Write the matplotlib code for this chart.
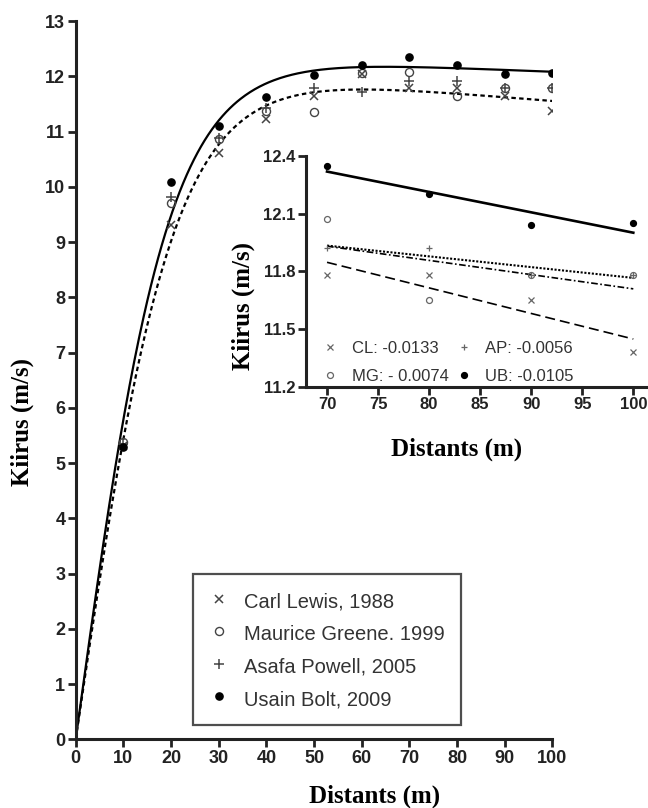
import numpy as np
import matplotlib
matplotlib.use("Agg")
import matplotlib.pyplot as plt

# split speeds (m/s) every 10 m
dist = [10, 20, 30, 40, 50, 60, 70, 80, 90, 100]
lewis = [5.30, 9.31, 10.62, 11.22, 11.64, 12.04, 11.78, 11.78, 11.65, 11.38]
greene = [5.38, 9.71, 10.87, 11.37, 11.36, 12.05, 12.07, 11.65, 11.78, 11.78]
powell = [5.35, 9.82, 10.88, 11.42, 11.78, 11.72, 11.92, 11.92, 11.78, 11.78]
bolt = [5.29, 10.09, 11.10, 11.62, 12.03, 12.20, 12.35, 12.20, 12.04, 12.05]

legend_names = ["Carl Lewis, 1988", "Maurice Greene. 1999",
                "Asafa Powell, 2005", "Usain Bolt, 2009"]
slope_labels = ["CL: -0.0133", "MG: - 0.0074", "AP: -0.0056", "UB: -0.0105"]

main_xticks = list(range(0, 101, 10))
main_yticks = list(range(0, 14))
inset_xticks = [70, 75, 80, 85, 90, 95, 100]
inset_yticks = [11.2, 11.5, 11.8, 12.1, 12.4]

W, H = 648, 808
TICKFONT = "Liberation Sans"
LABELFONT = "Liberation Serif"


def fit_speed_curve(x, v):
    # v = a*tanh(x/tau) - c*x with c >= 0, grid on tau/c, least squares on a
    x = np.asarray(x, float)
    v = np.asarray(v, float)
    cs = np.linspace(0, 0.03, 121)
    best = None
    for tau in np.linspace(8, 40, 321):
        g = np.tanh(x / tau)
        target = v[None, :] + cs[:, None] * x[None, :]
        a = target @ g / (g @ g)
        sse = np.sum((a[:, None] * g[None, :] - target) ** 2, axis=1)
        i = np.argmin(sse)
        if best is None or sse[i] < best[0]:
            best = (sse[i], tau, a[i], cs[i])
    _, tau, a, c = best
    return lambda xx: a * np.tanh(xx / tau) - c * xx


def px_ax(fig, left, top, right, bottom):
    return fig.add_axes([left / W, 1 - bottom / H, (right - left) / W, (bottom - top) / H])


def style_axes(ax, size):
    for s in ["top", "right"]:
        ax.spines[s].set_visible(False)
    for s in ["left", "bottom"]:
        ax.spines[s].set_linewidth(2.2)
        ax.spines[s].set_color("#222222")
    ax.tick_params(length=6, width=2, color="#222222", pad=1.5,
                   labelsize=size, labelcolor="#222222")
    for lab in ax.get_xticklabels() + ax.get_yticklabels():
        lab.set_fontfamily(TICKFONT)
        lab.set_fontweight("bold")


fig = plt.figure(figsize=(W / 100, H / 100), dpi=100)

# main chart
ax = px_ax(fig, 75.7, 21, 552.3, 739.3)
ax.set_xlim(0, 100)
ax.set_ylim(0, 13)
ax.set_xticks(main_xticks)
ax.set_yticks(main_yticks)
style_axes(ax, 13)

xx = np.linspace(0, 100, 400)
ax.plot(xx, fit_speed_curve(dist, bolt)(xx), color="black", lw=1.6, zorder=2)
ax.plot(xx, fit_speed_curve(dist, lewis)(xx), color="black", lw=1.6,
        ls=(0, (2, 1.5)), zorder=2)

gray = "#444444"
ax.plot(dist, lewis, ls="none", marker="x", ms=5.8, mew=1.1, color=gray, label=legend_names[0])
ax.plot(dist, greene, ls="none", marker="o", ms=5.8, mew=1.0, mfc="none", mec=gray, label=legend_names[1])
ax.plot(dist, powell, ls="none", marker="+", ms=6.8, mew=1.1, color=gray, label=legend_names[2])
ax.plot(dist, bolt, ls="none", marker="o", ms=5.2, color="black", label=legend_names[3])

leg = ax.legend(loc="upper left", bbox_to_anchor=(193 / W, 1 - 574 / H),
                bbox_transform=fig.transFigure, borderaxespad=0,
                prop={"family": TICKFONT, "size": 14.5}, frameon=True,
                fancybox=False, edgecolor="#222222", handlelength=1.0,
                handleheight=1.25, handletextpad=0.75, borderpad=0.8,
                labelspacing=0.55)
leg.get_frame().set_linewidth(1.6)
for t in leg.get_texts():
    t.set_color("#333333")

ax.set_xlabel("Distants (m)", family=LABELFONT, weight="bold", size=18, va="center")
ax.xaxis.set_label_coords((375 - 75.7) / 476.6, (739.3 - 796) / 718.3)
ax.set_ylabel("Kiirus (m/s)", family=LABELFONT, weight="bold", size=18, va="center")
ax.yaxis.set_label_coords((22 - 75.7) / 476.6, (739.3 - 422.5) / 718.3)

# inset: last 30 m with linear fits
ins = px_ax(fig, 306, 156, 648, 386.7)
ins.set_xlim(67.94, 101.44)
ins.set_ylim(11.2, 12.4)
ins.set_xticks(inset_xticks)
ins.set_yticks(inset_yticks)
ins.set_yticklabels([f"{v:.1f}" for v in inset_yticks])
style_axes(ins, 12)
ins.patch.set_alpha(0)

seg = np.array([70, 100])
tail = slice(6, 10)
fit_styles = [(0, (6, 3)), (0, (4, 1.5, 1, 1.5)), (0, (1, 0.8)), "-"]
fit_widths = [1.2, 1.2, 1.5, 1.9]
series = [lewis, greene, powell, bolt]
for vals, ls, lw in zip(series, fit_styles, fit_widths):
    k, b = np.polyfit(dist[tail], vals[tail], 1)
    ins.plot(seg, k * seg + b, color="black", ls=ls, lw=lw)

lgray = "#666666"
ins.plot(dist[tail], lewis[tail], ls="none", marker="x", ms=4.3, mew=0.9, color=lgray, label=slope_labels[0])
ins.plot(dist[tail], greene[tail], ls="none", marker="o", ms=4.3, mew=0.9, mfc="none", mec=lgray, label=slope_labels[1])
ins.plot(dist[tail], powell[tail], ls="none", marker="+", ms=5.0, mew=0.9, color=lgray, label=slope_labels[2])
ins.plot(dist[tail], bolt[tail], ls="none", marker="o", ms=4.2, color="black", label=slope_labels[3])

ileg = ins.legend(loc="upper left", bbox_to_anchor=(321.7 / W, 1 - 341 / H),
                  bbox_transform=fig.transFigure, borderaxespad=0, borderpad=0,
                  ncol=2, frameon=False, prop={"family": TICKFONT, "size": 12},
                  handlelength=1.0, handletextpad=0.8, columnspacing=0.4,
                  labelspacing=0.75)
for t in ileg.get_texts():
    t.set_color("#333333")

ins.set_xlabel("Distants (m)", family=LABELFONT, weight="bold", size=18, va="center")
ins.xaxis.set_label_coords((457 - 306) / 342, (386.7 - 449) / 230.7)
ins.set_ylabel("Kiirus (m/s)", family=LABELFONT, weight="bold", size=18, va="center")
ins.yaxis.set_label_coords((243 - 306) / 342, (386.7 - 306) / 230.7)

fig.savefig("out.png", dpi=100, facecolor="white")
